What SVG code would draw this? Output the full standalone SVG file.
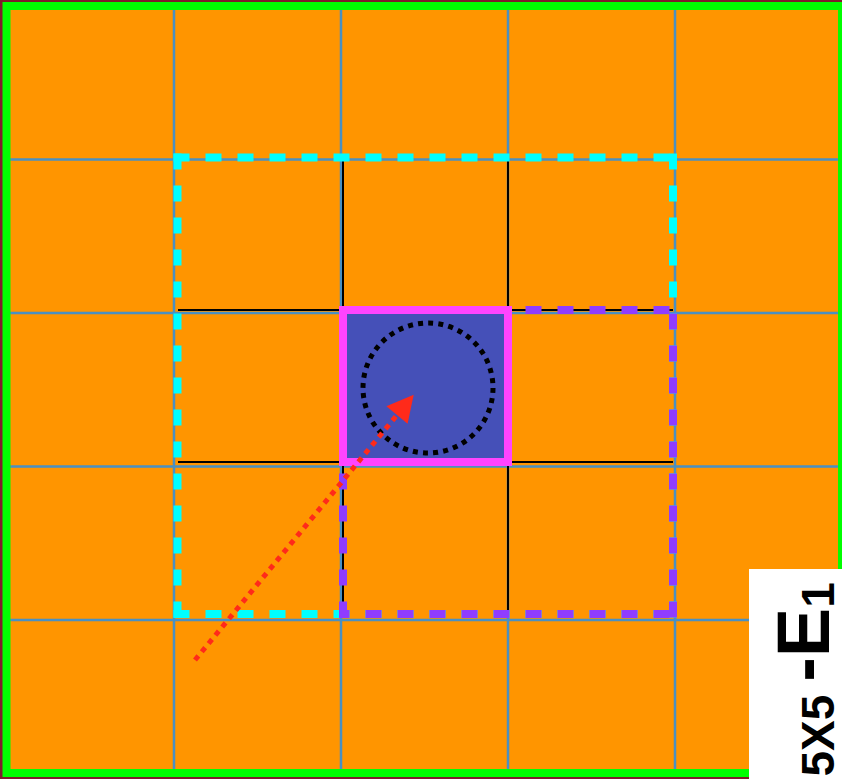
<svg xmlns="http://www.w3.org/2000/svg" width="842" height="779" viewBox="0 0 842 779">
<style>
.grid{stroke:#4a90c2;stroke-width:2.5;fill:none}
.inner{stroke:#000;stroke-width:2;fill:none}
.cy{stroke:#00ffff;stroke-width:8;stroke-dasharray:16 16;fill:none}
.pu{stroke:#8f3cff;stroke-width:8;stroke-dasharray:16 16;fill:none}
.lbl{font-family:"Liberation Sans",Arial,sans-serif;font-weight:bold;fill:#000}
</style>
<defs>
<marker id="ah" markerUnits="userSpaceOnUse" markerWidth="30" markerHeight="30" viewBox="0 -14 26 28" refX="0" refY="0" orient="auto">
<path d="M0,-12.8 L24.5,0 L0,12.8 Z" fill="#ff2a1a"/>
</marker>
</defs>
<rect x="0" y="0" width="842" height="779" fill="#7d1e2c"/>
<g id="board">
<rect x="6.5" y="6" width="835.5" height="767" fill="#ff9500"/>
<g id="grid-lines">
<line class="grid" x1="174" y1="6" x2="174" y2="773"/>
<line class="grid" x1="341" y1="6" x2="341" y2="773"/>
<line class="grid" x1="508" y1="6" x2="508" y2="773"/>
<line class="grid" x1="675" y1="6" x2="675" y2="773"/>
<line class="grid" x1="6" y1="159.5" x2="842" y2="159.5"/>
<line class="grid" x1="6" y1="313" x2="842" y2="313"/>
<line class="grid" x1="6" y1="466.5" x2="842" y2="466.5"/>
<line class="grid" x1="6" y1="620" x2="842" y2="620"/>
</g>
<rect x="6.5" y="6" width="835.5" height="767" fill="none" stroke="#00ff00" stroke-width="8"/>
</g>
<g id="neighborhood-3x3">
<line class="inner" x1="343" y1="158" x2="343" y2="614"/>
<line class="inner" x1="508" y1="158" x2="508" y2="614"/>
<line class="inner" x1="178" y1="310" x2="673" y2="310"/>
<line class="inner" x1="178" y1="462" x2="673" y2="462"/>
<line class="cy" x1="173.5" y1="157.5" x2="677" y2="157.5"/>
<line class="cy" x1="173.5" y1="614" x2="677" y2="614"/>
<line class="cy" x1="177.5" y1="153.5" x2="177.5" y2="618"/>
<line class="cy" x1="673" y1="153.5" x2="673" y2="618"/>
</g>
<g id="neighborhood-2x2">
<line class="pu" x1="339" y1="310" x2="677" y2="310" stroke-dashoffset="5.5"/>
<line class="pu" x1="339" y1="614" x2="677" y2="614" stroke-dashoffset="5.5"/>
<line class="pu" x1="343" y1="306" x2="343" y2="618" stroke-dashoffset="24.5"/>
<line class="pu" x1="673" y1="306" x2="673" y2="618" stroke-dashoffset="24.5"/>
</g>
<g id="center-cell">
<rect x="343" y="310" width="165" height="152" fill="#4550b8" stroke="#ff44ff" stroke-width="8"/>
<circle cx="428" cy="388" r="65" fill="none" stroke="#000" stroke-width="5" stroke-dasharray="5 5.2"/>
</g>
<g id="connectors">
<line x1="195" y1="660" x2="397" y2="415" stroke="#ff2a1a" stroke-width="5" stroke-dasharray="5.3 5.4" marker-end="url(#ah)"/>
</g>
<g id="label">
<rect x="749" y="569" width="93" height="210" fill="#fff"/>
<text class="lbl" transform="translate(833.5,776.5) rotate(-90)"><tspan font-size="46">5X5 </tspan><tspan font-size="74" dy="-5">-E</tspan><tspan font-size="46" dy="5">1</tspan></text>
</g>
</svg>
